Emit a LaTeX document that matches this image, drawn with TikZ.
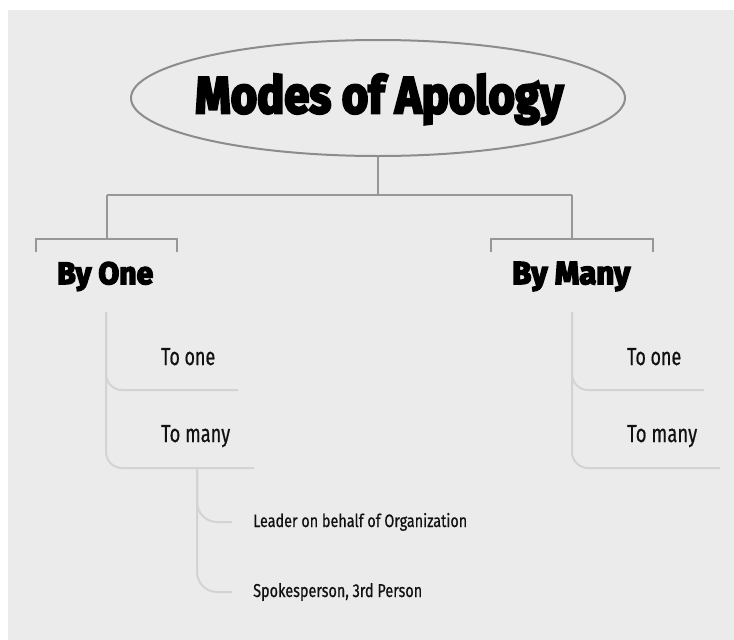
\documentclass[tikz,border=0pt]{standalone}
\usepackage{fontspec}
\usepackage{graphicx}
\setmainfont{Fira Sans}
\newfontfamily\heavy{Fira Sans}[BoldFeatures={FakeBold=5}]
\newfontfamily\leaffont{Fira Sans}[UprightFeatures={FakeBold=0.8}]
\usetikzlibrary{shapes.geometric}
\definecolor{bg}{HTML}{EBEBEB}
\definecolor{ellgray}{HTML}{8C8C8C}
\definecolor{topgray}{HTML}{979797}
\definecolor{subgray}{HTML}{D3D3D3}
\definecolor{ink}{HTML}{111111}
\newcommand{\fitbox}[3]{\resizebox{#1pt}{#2pt}{#3}}
\tikzset{
  conn/.style={draw=topgray, line width=2.4pt},
  sub/.style={draw=subgray, line width=2pt, rounded corners=16pt},
  head/.style={anchor=base west, inner sep=0pt, font=\heavy\bfseries\fontsize{30}{32}\selectfont, text=black},
  leaf/.style={anchor=base west, inner sep=0pt, font=\leaffont\fontsize{22}{24}\selectfont, text=ink},
}
\begin{document}
\begin{tikzpicture}[x=1pt,y=-1pt]
\useasboundingbox[fill=white] (0,0) rectangle (734,640);
\fill[bg] (8,10) rectangle (734,640);
% title
\node[ellipse, draw=ellgray, line width=2pt, minimum width=494pt, minimum height=116pt, inner sep=0pt] (title) at (378,98) {};
\node[anchor=base west, inner sep=0pt, font=\heavy\bfseries\fontsize{55}{60}\selectfont] (titletext) at (195,113) {\fitbox{368}{39}{Modes of Apology}};
% headings
\node[head] (byone) at (57,284) {\fitbox{96}{22}{By One}};
\node[head] (bymany) at (512,284) {\fitbox{118}{22}{By Many}};
% leaves
\node[leaf] (l1) at (161,365) {\fitbox{54}{17}{To one}};
\node[leaf] (l2) at (161,442) {\fitbox{69}{17}{To many}};
\node[leaf] (r1) at (627,365) {\fitbox{54}{17}{To one}};
\node[leaf] (r2) at (627,442) {\fitbox{70}{17}{To many}};
\node[leaf, font=\leaffont\fontsize{18}{20}\selectfont] (s1) at (253,527) {\fitbox{214}{14}{Leader on behalf of Organization}};
\node[leaf, font=\leaffont\fontsize{18}{20}\selectfont] (s2) at (253,597) {\fitbox{169}{14}{Spokesperson, 3rd Person}};
% coordinates
\coordinate (j0) at (378,195);
\coordinate (jl) at (107,195);
\coordinate (jr) at (572,195);
\coordinate (bl) at (107,239);
\coordinate (br) at (572,239);
\coordinate (lt) at (106,312);
\coordinate (rt) at (572,312);
\coordinate (l1e) at (238,390);
\coordinate (l2e) at (254,468);
\coordinate (r1e) at (704,390);
\coordinate (r2e) at (720,468);
\coordinate (st) at (197,468);
\coordinate (s1e) at (232,522);
\coordinate (s2e) at (232,592);
% top connectors
\draw[conn] (title.south) -- (j0);
\draw[conn] (jl) -- (jr);
\draw[conn] (jl) -- (bl);
\draw[conn] (jr) -- (br);
\draw[conn] (36,252) -- (36,239) -- (177,239) -- (177,252);
\draw[conn] (491,252) -- (491,239) -- (653,239) -- (653,252);
% sub connectors
\draw[sub] (lt) |- (l1e);
\draw[sub] (lt) |- (l2e);
\draw[sub] (rt) |- (r1e);
\draw[sub] (rt) |- (r2e);
\draw[sub, rounded corners=20pt] (st) |- (s1e);
\draw[sub, rounded corners=20pt] (st) |- (s2e);
\end{tikzpicture}
\end{document}
